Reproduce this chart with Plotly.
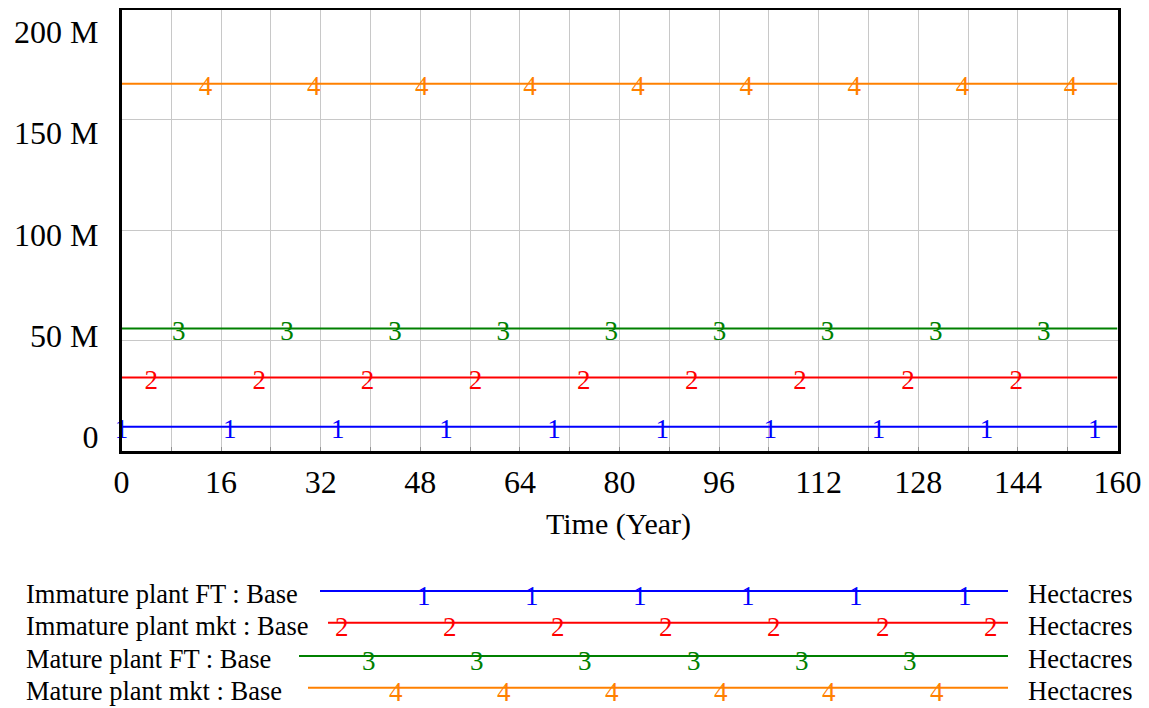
import numpy as np
import plotly.graph_objects as go

# ---------------- data ----------------
time = [0, 160]
series_names = [
    "Immature plant FT : Base",
    "Immature plant mkt : Base",
    "Mature plant FT : Base",
    "Mature plant mkt : Base",
]
immature_plant_ft = [11.0e6, 11.0e6]
immature_plant_mkt = [33.3e6, 33.3e6]
mature_plant_ft = [55.5e6, 55.5e6]
mature_plant_mkt = [166.4e6, 166.4e6]
series_units = ["Hectacres", "Hectacres", "Hectacres", "Hectacres"]
series_digits = ["1", "2", "3", "4"]
x_tick_vals = [0, 16, 32, 48, 64, 80, 96, 112, 128, 144, 160]
y_tick_vals = [0, 50e6, 100e6, 150e6, 200e6]
y_tick_text = ["0", "50 M", "100 M", "150 M", "200 M"]

series_values = [immature_plant_ft, immature_plant_mkt, mature_plant_ft, mature_plant_mkt]

# ---------------- style ----------------
# The page body has an 8px margin, so the figure is made 8px smaller and
# every layout position (given in window pixels) is shifted by that offset.
WIN_W, WIN_H = 1149, 708
OFF = 8
W, H = WIN_W - OFF, WIN_H - OFF


def xp(px):
    return (px - OFF) / W


def yp(py):
    return 1 - (py - OFF) / H


colors = ["#0000ff", "#ff0000", "#008000", "#ff8000"]
FONT = "Liberation Serif"
plot_left, plot_right, plot_top, plot_bottom = 121.5, 1117.5, 9.5, 451
x_dom = [xp(plot_left), xp(plot_right)]
y_dom = [yp(plot_bottom), min(1.0, yp(plot_top))]
grid_col = "#c8c8c8"
DIGIT_SIZE = 27

# digit marker placement along the plotted lines (in time units)
digit_phase = [0.0, 4.77, 9.2, 13.5]
digit_spacing = 17.37
px_per_unit_y = (plot_bottom - plot_top) / 200e6
digit_drop = 4.5 / px_per_unit_y  # digits sit slightly below the line

fig = go.Figure()

for i, vals in enumerate(series_values):
    fig.add_trace(go.Scatter(
        x=time, y=vals, mode="lines",
        line=dict(color=colors[i], width=2),
        name=series_names[i], hoverinfo="skip",
    ))

for i, vals in enumerate(series_values):
    xs = []
    k = 0
    while digit_phase[i] + k * digit_spacing <= time[-1]:
        xs.append(digit_phase[i] + k * digit_spacing)
        k += 1
    ys = np.interp(xs, time, vals) - digit_drop
    fig.add_trace(go.Scatter(
        x=xs, y=ys, mode="text", text=[series_digits[i]] * len(xs),
        textposition="middle center",
        textfont=dict(family=FONT, size=DIGIT_SIZE, color=colors[i]),
        cliponaxis=False, hoverinfo="skip", showlegend=False,
    ))

# invisible trace to carry the label axis
fig.add_trace(go.Scatter(x=[time[0]], y=[y_tick_vals[0]], yaxis="y2",
                         mode="markers", marker=dict(opacity=0),
                         hoverinfo="skip", showlegend=False))

# label axis range chosen so labels sit where the original places them
lab_px_zero, lab_px_top = 436.7, 32.0
lab_scale = (lab_px_zero - lab_px_top) / y_tick_vals[-1]
y2_range = [(lab_px_zero - plot_bottom) / lab_scale, (lab_px_zero - plot_top) / lab_scale]

fig.update_layout(
    template="none",
    width=W, height=H, autosize=False,
    margin=dict(l=0, r=0, t=0, b=0, pad=0),
    paper_bgcolor="white", plot_bgcolor="white",
    showlegend=False,
    font=dict(family=FONT, color="black"),
    xaxis=dict(
        domain=x_dom, range=[time[0], time[-1]], automargin=False,
        tickvals=x_tick_vals, ticktext=[str(v) for v in x_tick_vals],
        tickfont=dict(family=FONT, size=32, color="black"),
        showgrid=True, gridcolor=grid_col, gridwidth=1,
        minor=dict(dtick=8, tick0=0, showgrid=True, gridcolor=grid_col,
                   ticks="inside", ticklen=4, tickcolor="#909090"),
        ticks="inside", ticklen=4, tickcolor="#909090",
        showline=True, linecolor="black", linewidth=3, mirror=True,
        zeroline=False, ticklabelstandoff=1,
    ),
    yaxis=dict(
        domain=y_dom, range=[0, 200e6], automargin=False,
        tickvals=y_tick_vals, showticklabels=False, ticks="",
        showgrid=True, gridcolor=grid_col, gridwidth=1,
        showline=True, linecolor="black", linewidth=3, mirror=True,
        zeroline=False,
    ),
    yaxis2=dict(
        overlaying="y", side="left", anchor="x", automargin=False,
        range=y2_range,
        tickvals=y_tick_vals, ticktext=y_tick_text, ticks="",
        tickfont=dict(family=FONT, size=32, color="black"),
        showgrid=False, zeroline=False, showline=False,
        ticklabelstandoff=22,
    ),
)

# x axis title
fig.add_annotation(
    text="Time (Year)", x=xp(618), y=yp(524), xref="paper", yref="paper",
    xanchor="center", yanchor="middle", showarrow=False,
    font=dict(family=FONT, size=30, color="black"),
)

# legend block (drawn like the original: label, line with digits, unit)
leg_line_y = [591, 622.7, 656, 687.7]
leg_line_x0 = [320, 328, 299, 308]
leg_line_x1 = 1008
leg_digit_phase = [423.5, 341.5, 369, 396]
leg_digit_spacing = 108.2
for i in range(len(series_names)):
    yl = leg_line_y[i]
    fig.add_shape(type="line", xref="paper", yref="paper",
                  x0=xp(leg_line_x0[i]), x1=xp(leg_line_x1),
                  y0=yp(yl), y1=yp(yl),
                  line=dict(color=colors[i], width=2))
    px = leg_digit_phase[i]
    while px <= leg_line_x1:
        fig.add_annotation(text=series_digits[i], x=xp(px), y=yp(yl + 4.5),
                           xref="paper", yref="paper", xanchor="center", yanchor="middle",
                           showarrow=False,
                           font=dict(family=FONT, size=DIGIT_SIZE, color=colors[i]))
        px += leg_digit_spacing
    fig.add_annotation(text=series_names[i], x=xp(24), y=yp(yl + 3),
                       xref="paper", yref="paper", xanchor="left", yanchor="middle",
                       showarrow=False, font=dict(family=FONT, size=26.5, color="black"))
    fig.add_annotation(text=series_units[i], x=xp(1026), y=yp(yl + 3),
                       xref="paper", yref="paper", xanchor="left", yanchor="middle",
                       showarrow=False, font=dict(family=FONT, size=26.5, color="black"))

fig.write_html("out.html")
